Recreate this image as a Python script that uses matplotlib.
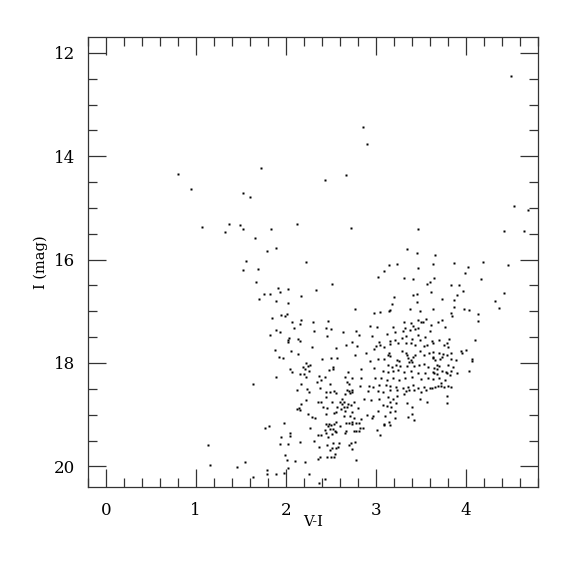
import matplotlib
matplotlib.use("Agg")
import matplotlib.pyplot as plt
from matplotlib.ticker import MultipleLocator

# V-I colour and I magnitude of each star
vi = [
    # bright sparse stars
    0.80, 0.95, 1.72, 1.52, 1.60, 1.07, 1.32, 1.37, 1.49, 1.53, 1.66, 1.84, 2.12, 1.79, 1.89,
    4.50, 2.86, 2.90, 2.43, 2.67, 4.53, 4.69, 2.72, 3.47, 4.42, 4.65, 3.35, 3.46, 3.66,
    1.56, 1.52, 1.69, 2.22,
    1.14, 1.16, 1.46, 1.55,
    # blue / middle sequence
    1.67, 2.51, 1.91, 2.03, 1.94, 1.76, 1.82, 2.34, 2.17, 1.70, 1.89, 2.03, 1.95, 1.99, 2.01,
    1.85, 2.17, 2.07, 2.30, 2.47, 2.16, 2.09, 1.89, 1.94, 2.31, 2.45, 2.50, 2.64, 1.82, 2.04,
    2.03, 2.14, 2.16, 2.02, 2.46, 2.29, 2.56, 1.88, 2.06, 2.14, 1.93, 1.97, 2.40, 2.50, 2.57,
    2.23, 2.27, 2.25, 2.19, 2.21, 2.26, 2.05, 2.07, 2.52, 2.52, 2.48, 2.16, 2.20, 1.89, 2.23,
    2.37, 2.43,
    1.64, 2.17, 2.35, 2.39, 2.49, 2.24, 2.26, 2.13, 2.38, 2.45, 2.49, 2.53, 2.56, 2.45, 2.22,
    2.36, 2.39, 2.51, 2.60, 2.17, 2.15, 2.13, 2.16, 2.41, 2.46, 2.57, 2.25, 2.45, 2.29, 2.32,
    2.53, 2.56, 1.98, 1.81, 1.77, 2.27, 2.45, 2.47, 2.48, 2.50, 2.53, 2.56, 2.60, 2.52, 2.05,
    2.05, 1.95, 2.43, 2.49, 2.45, 2.51, 2.55, 2.56, 2.36, 2.39, 2.47, 2.31, 2.16, 1.94, 2.02,
    2.52, 2.59, 2.46, 2.51, 2.56, 2.58, 2.49, 2.37, 1.99, 2.01, 2.10, 2.21, 2.36, 2.38, 2.46,
    2.50, 2.53, 2.55, 2.02, 1.79, 1.79, 1.89, 1.98, 2.26, 1.64, 2.43, 2.37,
    # red clump / giant branch, upper part
    3.64, 3.24, 3.15, 3.09, 3.47, 3.02, 3.31, 3.41, 3.65, 3.60, 3.57, 3.61, 3.46, 3.41, 3.20,
    3.46, 3.18, 2.77, 2.98, 3.05, 3.16, 3.15, 3.38, 3.49, 3.63, 3.56, 3.31, 3.39, 3.41, 3.47,
    3.50, 3.52, 3.61, 3.69, 2.93, 3.01, 3.19, 3.32, 3.47,
    # dense red region
    2.78, 2.81, 2.96, 3.12, 3.21, 3.30, 3.38, 3.43, 3.60, 3.47, 3.34, 3.29, 3.21, 3.16, 3.40,
    3.49, 3.55, 2.67, 2.73, 2.79, 3.04, 3.05, 3.00, 2.98, 3.09, 3.16, 3.25, 3.33, 3.39, 3.44,
    3.53, 3.57, 2.89, 2.77, 3.15, 3.13, 3.16, 3.29, 3.33, 3.35, 3.36, 3.39, 3.40, 3.37, 3.41,
    3.44, 3.49, 3.53, 3.59, 2.93, 3.09, 3.02, 3.23, 3.26, 3.22, 3.18, 3.13, 3.27, 3.35, 3.42,
    3.48, 3.53, 3.58, 2.69, 2.84, 2.98, 3.08, 3.13, 3.19, 3.25, 3.31, 3.39, 3.47, 3.55, 2.66,
    2.74, 2.83, 2.99, 3.06, 3.12, 3.19, 3.26, 3.32, 3.40, 3.50, 3.58, 2.68, 2.70, 2.82, 2.92,
    2.97, 3.03, 3.11, 3.16, 3.22, 3.30, 3.36, 3.41, 3.42, 3.47, 3.53, 3.60, 2.68, 2.70, 2.71,
    2.73, 2.74, 2.66, 2.91, 3.02, 3.08, 3.16, 3.24, 3.33, 3.37, 3.50, 3.56, 2.62, 2.65, 2.69,
    2.76, 2.87, 2.95, 3.03, 3.13, 3.19, 3.24, 3.31, 3.49, 3.16, 3.22, 3.08, 3.12, 3.17, 3.21,
    2.65, 2.68, 2.72, 2.80, 2.62, 3.35, 3.40, 3.57, 2.61, 2.66, 2.73, 2.90, 2.97, 3.02, 3.10,
    3.16, 3.21, 3.40, 2.65, 2.71, 2.76, 2.83, 2.96, 3.36,
    # reddest stars
    3.87, 4.19, 4.47, 4.02, 3.99, 4.17, 3.84, 3.92, 3.97, 4.42, 3.90, 3.74, 3.87, 4.32, 4.37,
    3.87, 3.98, 4.03, 3.84, 3.85, 4.14, 4.13, 3.74, 3.77, 3.81, 3.70, 4.10, 3.62, 3.64, 3.79,
    3.76, 3.80, 3.63, 3.70, 3.75, 3.84, 3.95, 3.96, 4.00, 3.79, 3.73, 3.64, 3.63, 3.66, 3.71,
    3.84, 3.89, 4.07, 4.07, 3.68, 3.70, 3.80, 3.86, 3.65, 3.68, 3.74, 3.78, 3.84, 4.04, 3.63,
    3.65, 3.68, 3.79, 3.82, 3.90, 3.70, 3.64, 3.77, 3.72, 3.62, 3.66, 3.69, 3.72, 3.76, 3.80,
    3.84, 3.79, 3.79,
    # faint red stars
    2.67, 2.70, 2.74, 2.74, 2.78, 2.81, 2.66, 2.67, 2.76, 2.78, 2.81, 2.82, 2.86, 3.01, 3.05,
    3.09, 3.09, 3.15, 3.16, 3.42, 2.70, 2.72, 2.77, 2.73, 2.78,
]

imag = [
    14.35, 14.64, 14.22, 14.72, 14.78, 15.36, 15.46, 15.31, 15.33, 15.41, 15.58, 15.41, 15.31, 15.84, 15.77,
    12.45, 13.43, 13.77, 14.46, 14.37, 14.96, 15.04, 15.38, 15.40, 15.45, 15.45, 15.79, 15.88, 15.92,
    16.02, 16.21, 16.19, 16.05,
    19.59, 19.97, 20.01, 19.91,
    16.44, 16.48, 16.55, 16.56, 16.62, 16.67, 16.66, 16.59, 16.71, 16.76, 16.80, 16.83, 17.07, 17.09, 17.05,
    17.13, 17.16, 17.20, 17.21, 17.19, 17.25, 17.32, 17.36, 17.41, 17.38, 17.32, 17.35, 17.41, 17.46, 17.51,
    17.56, 17.54, 17.57, 17.60, 17.48, 17.70, 17.71, 17.75, 17.77, 17.82, 17.88, 17.91, 17.93, 17.90, 17.90,
    18.00, 18.04, 18.06, 18.08, 18.12, 18.15, 18.11, 18.17, 18.07, 18.12, 18.13, 18.21, 18.21, 18.27, 18.27,
    18.26, 18.28,
    18.41, 18.40, 18.37, 18.32, 18.40, 18.51, 18.57, 18.53, 18.49, 18.57, 18.56, 18.55, 18.59, 18.65, 18.71,
    18.75, 18.75, 18.76, 18.75, 18.80, 18.87, 18.89, 18.91, 18.85, 18.87, 18.86, 18.99, 18.99, 19.05, 19.07,
    18.97, 18.94, 19.16, 19.21, 19.25, 19.25, 19.18, 19.21, 19.18, 19.20, 19.18, 19.14, 19.21, 19.27, 19.36,
    19.42, 19.43, 19.30, 19.28, 19.36, 19.37, 19.31, 19.34, 19.40, 19.40, 19.44, 19.50, 19.52, 19.57, 19.57,
    19.54, 19.55, 19.59, 19.64, 19.64, 19.63, 19.69, 19.63, 19.79, 19.87, 19.89, 19.91, 19.86, 19.82, 19.81,
    19.82, 19.82, 19.77, 20.04, 20.08, 20.15, 20.15, 20.13, 20.15, 20.21, 20.24, 20.33,
    16.09, 16.08, 16.11, 16.22, 16.17, 16.34, 16.36, 16.37, 16.35, 16.43, 16.47, 16.63, 16.67, 16.69, 16.73,
    16.82, 16.86, 16.96, 17.03, 17.01, 16.97, 16.99, 16.95, 16.99, 16.96, 17.14, 17.20, 17.23, 17.28, 17.17,
    17.20, 17.20, 17.27, 17.20, 17.28, 17.31, 17.31, 17.32, 17.32,
    17.39, 17.45, 17.47, 17.43, 17.41, 17.38, 17.36, 17.34, 17.38, 17.45, 17.47, 17.52, 17.56, 17.58, 17.53,
    17.56, 17.50, 17.65, 17.59, 17.67, 17.59, 17.65, 17.67, 17.72, 17.69, 17.64, 17.61, 17.61, 17.61, 17.66,
    17.67, 17.65, 17.80, 17.84, 17.80, 17.84, 17.86, 17.77, 17.80, 17.85, 17.90, 17.94, 17.98, 17.98, 17.89,
    17.84, 17.77, 17.84, 17.81, 17.97, 17.92, 17.93, 17.94, 17.97, 18.03, 18.08, 18.04, 18.06, 18.06, 18.06,
    18.03, 18.02, 18.08, 18.17, 18.11, 18.10, 18.16, 18.18, 18.16, 18.13, 18.17, 18.15, 18.19, 18.20, 18.27,
    18.29, 18.29, 18.30, 18.30, 18.33, 18.30, 18.33, 18.30, 18.28, 18.31, 18.29, 18.37, 18.40, 18.44, 18.44,
    18.46, 18.42, 18.42, 18.44, 18.47, 18.48, 18.47, 18.43, 18.53, 18.48, 18.46, 18.49, 18.53, 18.55, 18.58,
    18.53, 18.56, 18.60, 18.55, 18.55, 18.56, 18.53, 18.53, 18.55, 18.52, 18.56, 18.52, 18.69, 18.75, 18.79,
    18.76, 18.70, 18.71, 18.70, 18.65, 18.69, 18.64, 18.60, 18.70, 18.75, 18.78, 18.82, 18.84, 18.85, 18.92,
    18.85, 18.85, 18.82, 18.87, 18.80, 18.78, 18.85, 18.75, 18.90, 18.93, 18.94, 19.01, 19.02, 18.93, 19.02,
    18.94, 19.06, 18.98, 19.03, 19.03, 19.07, 19.09, 19.07, 19.04,
    16.06, 16.04, 16.10, 16.15, 16.25, 16.37, 16.50, 16.49, 16.61, 16.64, 16.68, 16.76, 16.78, 16.81, 16.93,
    16.92, 16.95, 16.98, 17.03, 17.10, 17.05, 17.18, 17.16, 17.30, 17.53, 17.55, 17.55, 17.57, 17.61, 17.62,
    17.65, 17.70, 17.79, 17.81, 17.82, 17.80, 17.76, 17.80, 17.75, 17.85, 17.89, 17.88, 17.90, 17.95, 17.93,
    17.93, 17.94, 17.93, 17.97, 18.03, 18.05, 18.04, 18.07, 18.09, 18.12, 18.15, 18.17, 18.15, 18.16, 18.18,
    18.20, 18.22, 18.20, 18.24, 18.20, 18.29, 18.31, 18.33, 18.39, 18.49, 18.47, 18.45, 18.44, 18.47, 18.45,
    18.47, 18.63, 18.77,
    19.17, 19.16, 19.14, 19.19, 19.17, 19.17, 19.35, 19.32, 19.31, 19.31, 19.31, 19.26, 19.25, 19.30, 19.39,
    19.18, 19.20, 19.14, 19.20, 19.10, 19.59, 19.55, 19.53, 19.66, 19.88,
]

plt.rcParams['font.family'] = 'DejaVu Serif'

fig = plt.figure(figsize=(5.75, 5.75), dpi=100)
ax = fig.add_axes([0.1525, 0.153, 0.783, 0.782])

ax.plot(vi, imag, 's', color='black', ms=1.9, mec='none')

ax.set_xlim(-0.2, 4.8)
ax.set_ylim(20.4, 11.7)

ax.xaxis.set_major_locator(MultipleLocator(1))
ax.xaxis.set_minor_locator(MultipleLocator(0.2))
ax.yaxis.set_major_locator(MultipleLocator(2))
ax.yaxis.set_minor_locator(MultipleLocator(0.5))
ax.tick_params(which='both', direction='in', top=True, right=True, color='#333333', width=0.9)
ax.tick_params(which='major', length=13, labelsize=12)
ax.tick_params(which='minor', length=6.5)
ax.tick_params(axis='x', which='major', pad=11)
ax.tick_params(axis='y', which='major', pad=9)
for s in ax.spines.values():
    s.set_color('#333333')
    s.set_linewidth(0.9)

ax.set_xlabel('V-I', fontsize=10.5, labelpad=-3)
ax.set_ylabel('I (mag)', fontsize=10.5, labelpad=4)

fig.savefig('out.png', dpi=100)
